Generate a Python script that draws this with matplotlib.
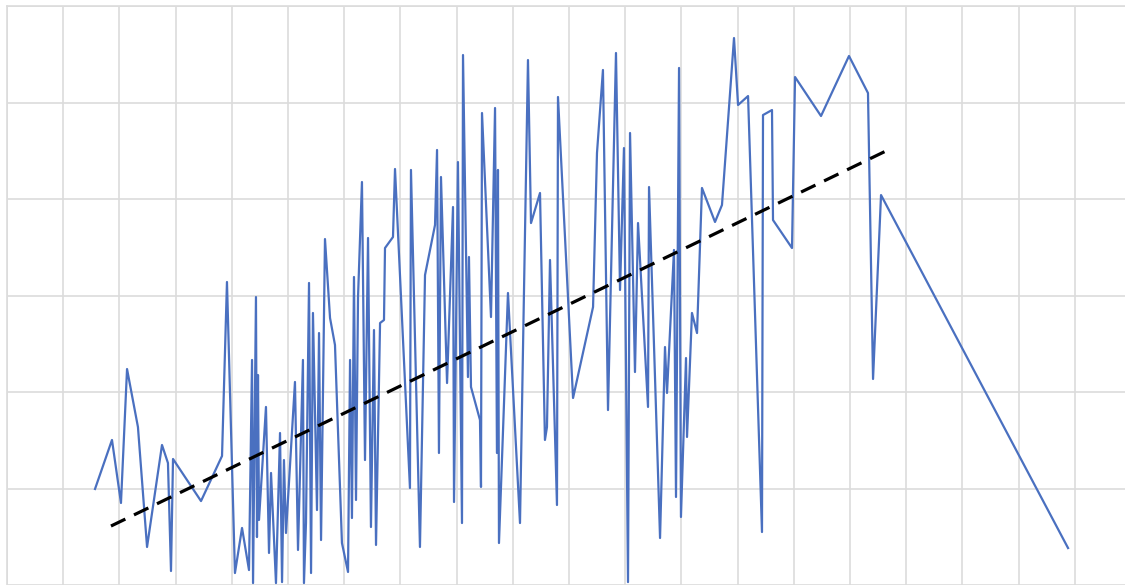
import numpy as np
import matplotlib
matplotlib.use("Agg")
import matplotlib.pyplot as plt

# series values (x: 0-100, y: 0-60)
x_vals = [7.83, 9.34, 10.14, 10.68, 11.65, 12.46, 13.79, 14.32, 14.59, 14.77,
          17.26, 19.13, 19.57, 20.28, 20.91, 21.53, 21.80, 21.89, 22.15, 22.24,
          22.33, 22.42, 23.04, 23.31, 23.49, 23.93, 24.29, 24.47, 24.64, 24.82,
          25.62, 25.89, 26.33, 26.42, 26.60, 26.87, 27.05, 27.22, 27.58, 27.76,
          27.94, 28.29, 28.74, 29.18, 29.80, 30.34, 30.52, 30.69, 30.87, 31.05,
          31.23, 31.58, 31.85, 32.12, 32.38, 32.65, 32.83, 33.19, 33.54, 33.63,
          34.34, 34.52, 35.85, 35.94, 36.74, 37.19, 38.08, 38.26, 38.43, 38.61,
          39.15, 39.68, 39.77, 40.12, 40.48, 40.57, 41.01, 41.10, 41.28, 42.08,
          42.17, 42.26, 43.06, 43.42, 43.59, 43.68, 43.77, 44.57, 45.64, 46.35,
          46.62, 47.42, 47.86, 48.04, 48.31, 48.93, 49.02, 50.36, 52.14, 52.49,
          53.02, 53.47, 54.18, 54.54, 54.89, 55.25, 55.43, 55.87, 56.14, 57.03,
          57.12, 58.10, 58.54, 58.72, 59.34, 59.52, 59.79, 59.96, 60.41, 60.50,
          60.94, 61.39, 61.83, 62.99, 63.61, 64.68, 65.04, 65.93, 67.17, 67.26,
          68.06, 68.15, 69.84, 70.11, 72.42, 74.91, 76.60, 77.05, 77.76, 94.40]
y_vals = [9.95, 15.03, 8.50, 22.38, 16.37, 3.94, 14.51, 12.64, 1.45, 13.06,
          8.70, 13.37, 31.40, 1.24, 5.91, 1.55, 23.32, 0.20, 29.84, 4.97,
          21.76, 6.74, 18.45, 3.32, 11.61, 0.20, 15.75, 0.30, 12.95, 5.39,
          21.04, 3.63, 23.32, 0.20, 6.42, 31.30, 1.24, 28.19, 7.77, 26.11,
          4.66, 35.85, 27.67, 24.87, 4.35, 1.35, 23.32, 6.94, 31.92, 8.81,
          29.84, 41.76, 12.95, 35.96, 6.01, 26.42, 4.15, 27.15, 27.46, 34.92,
          36.06, 43.11, 10.05, 43.01, 3.94, 32.12, 37.31, 45.08, 13.68, 42.28,
          20.93, 39.17, 8.60, 43.83, 6.42, 54.92, 21.55, 33.99, 20.52, 17.10,
          10.16, 48.91, 27.77, 49.43, 13.68, 43.01, 4.35, 30.26, 6.42, 54.40,
          37.51, 40.62, 15.03, 16.37, 33.68, 8.29, 50.57, 19.38, 28.81, 44.77,
          53.37, 18.13, 55.13, 30.57, 45.28, 0.30, 46.84, 22.07, 37.51, 18.45,
          41.24, 4.87, 24.66, 19.90, 34.72, 9.12, 53.58, 7.05, 23.52, 15.34,
          28.19, 26.11, 41.14, 37.62, 39.38, 56.68, 49.74, 50.67, 5.49, 48.70,
          49.22, 37.82, 34.92, 52.64, 48.60, 54.82, 50.98, 21.35, 40.41, 3.83]

# trend line end points
trend_x = [9.25, 78.74]
trend_y = [6.11, 45.28]

fig = plt.figure(figsize=(11.25, 5.85), dpi=100)
ax = fig.add_axes([7 / 1125, 0, 1124 / 1125, 579 / 585])

ax.plot(x_vals, y_vals, color='#4a70c0', linewidth=1.6, zorder=3)
ax.plot(trend_x, trend_y, color='black', linewidth=2.3, dashes=(5, 3), zorder=4)

ax.set_xlim(0, 100)
ax.set_ylim(0, 60)
ax.set_xticks(np.arange(0, 101, 5))
ax.set_yticks(np.arange(0, 61, 10))
ax.tick_params(left=False, bottom=False, labelleft=False, labelbottom=False)
ax.grid(True, color='#dcdcdc', linewidth=1.2)
ax.set_axisbelow(True)
for side in ['top', 'left']:
    ax.spines[side].set_color('#dcdcdc')
    ax.spines[side].set_linewidth(1.2)
for side in ['bottom', 'right']:
    ax.spines[side].set_visible(False)

fig.savefig('out.png', dpi=100)
